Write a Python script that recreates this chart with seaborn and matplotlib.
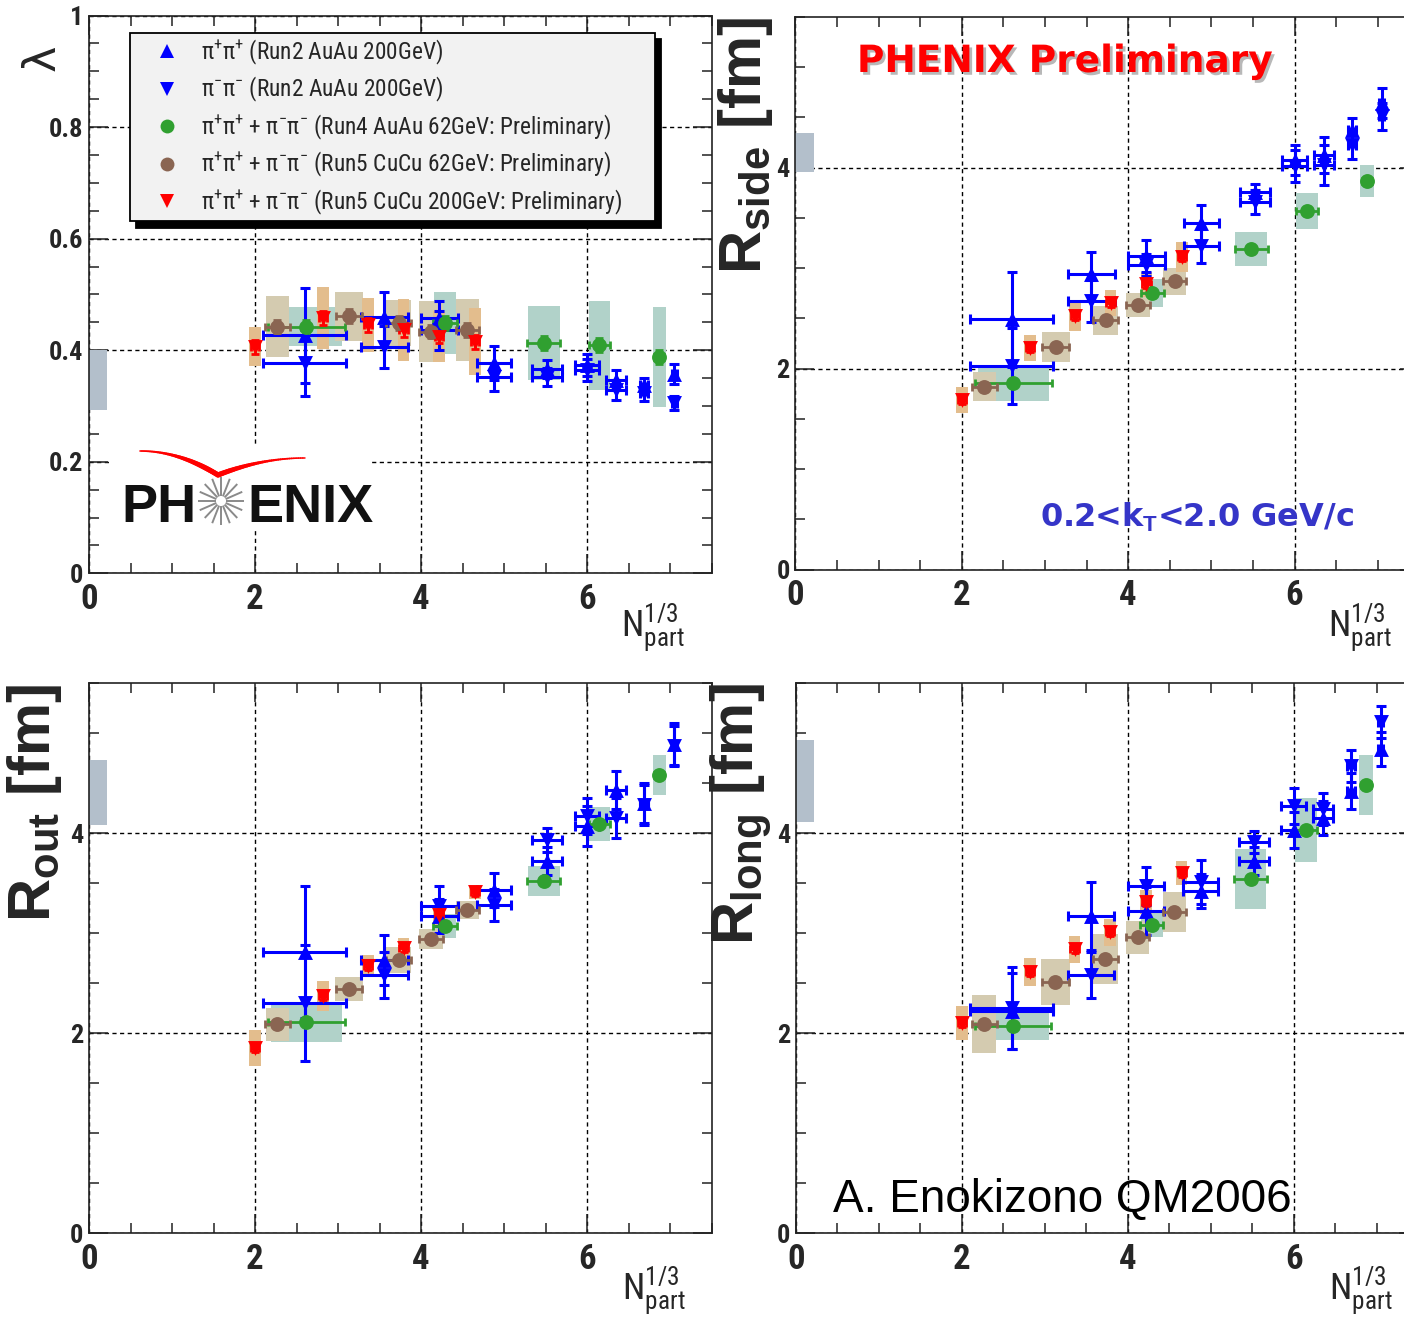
import numpy as np
import pandas as pd
import matplotlib
matplotlib.use("Agg")
import matplotlib.pyplot as plt
import seaborn as sns
from matplotlib.lines import Line2D
from matplotlib.ticker import MultipleLocator
from matplotlib.collections import LineCollection
import matplotlib.patheffects as pe
from matplotlib import font_manager as fm

# ---------------- data ----------------
# x positions (N_part^{1/3})
x_run2 = [2.60, 3.56, 4.22, 4.88, 5.52, 6.00, 6.35, 6.69, 7.05]
xerr_run2 = [0.50, 0.28, 0.22, 0.21, 0.18, 0.15, 0.12, 0.05, 0.03]
x_auau62 = [2.62, 4.29, 5.48, 6.15, 6.87]
xerr_auau62 = [0.46, 0.14, 0.20, 0.13, 0.06]
boxw_auau62 = [0.43, 0.13, 0.19, 0.13, 0.08]
x_cucu62 = [2.27, 3.13, 3.73, 4.12, 4.56]
xerr_cucu62 = [0.15, 0.16, 0.15, 0.14, 0.14]
boxw_cucu62 = [0.14, 0.17, 0.15, 0.14, 0.14]
x_cucu200 = [2.00, 2.82, 3.36, 3.79, 4.22, 4.65]
xerr_cucu200 = [0.05, 0.05, 0.05, 0.05, 0.05, 0.05]
boxw_cucu200 = [0.07, 0.07, 0.07, 0.07, 0.07, 0.07]

# lambda
lam_pp = [0.427, 0.460, 0.458, 0.377, 0.367, 0.373, 0.346, 0.337, 0.358]
lam_pp_err = [0.085, 0.045, 0.030, 0.030, 0.016, 0.020, 0.018, 0.014, 0.018]
lam_mm = [0.377, 0.406, 0.436, 0.352, 0.352, 0.364, 0.329, 0.323, 0.305]
lam_mm_err = [0.060, 0.038, 0.035, 0.025, 0.016, 0.020, 0.018, 0.014, 0.012]
lam_auau62 = [0.442, 0.449, 0.413, 0.409, 0.388]
lam_auau62_sys = [0.035, 0.056, 0.067, 0.080, 0.089]
lam_cucu62 = [0.442, 0.461, 0.449, 0.433, 0.436]
lam_cucu62_sys = [0.055, 0.044, 0.041, 0.055, 0.056]
lam_cucu200 = [0.406, 0.458, 0.445, 0.436, 0.424, 0.415]
lam_cucu200_sys = [0.035, 0.055, 0.048, 0.055, 0.046, 0.060]

# R_side
side_pp = [2.49, 2.94, 3.12, 3.45, 3.76, 4.08, 4.13, 4.38, 4.64]
side_pp_err = [0.47, 0.22, 0.16, 0.18, 0.08, 0.15, 0.18, 0.11, 0.15]
side_mm = [2.03, 2.67, 3.03, 3.22, 3.66, 4.02, 4.03, 4.23, 4.51]
side_mm_err = [0.38, 0.21, 0.11, 0.17, 0.12, 0.16, 0.20, 0.14, 0.13]
side_auau62 = [1.86, 2.75, 3.19, 3.57, 3.87]
side_auau62_sys = [0.18, 0.14, 0.17, 0.18, 0.16]
side_cucu62 = [1.82, 2.22, 2.48, 2.63, 2.87]
side_cucu62_sys = [0.145, 0.15, 0.14, 0.12, 0.135]
side_cucu200 = [1.69, 2.21, 2.52, 2.65, 2.84, 3.11]
side_cucu200_sys = [0.13, 0.13, 0.14, 0.13, 0.125, 0.15]

# R_out
out_pp = [2.81, 2.73, 3.17, 3.43, 3.72, 4.07, 4.43, 4.30, 4.89]
out_pp_err = [0.66, 0.25, 0.17, 0.17, 0.14, 0.20, 0.19, 0.20, 0.21]
out_mm = [2.30, 2.58, 3.27, 3.28, 3.93, 4.17, 4.15, 4.28, 4.87]
out_mm_err = [0.58, 0.23, 0.20, 0.16, 0.12, 0.18, 0.20, 0.20, 0.20]
out_auau62 = [2.11, 3.07, 3.52, 4.09, 4.58]
out_auau62_sys = [0.20, 0.12, 0.15, 0.17, 0.20]
out_cucu62 = [2.09, 2.44, 2.73, 2.94, 3.23]
out_cucu62_sys = [0.165, 0.12, 0.13, 0.10, 0.09]
out_cucu200 = [1.85, 2.37, 2.67, 2.85, 3.18, 3.41]
out_cucu200_sys = [0.18, 0.15, 0.11, 0.10, 0.10, 0.07]

# R_long
long_pp = [2.22, 3.17, 3.22, 3.42, 3.72, 4.03, 4.15, 4.42, 4.84]
long_pp_err = [0.38, 0.34, 0.24, 0.17, 0.14, 0.18, 0.17, 0.18, 0.17]
long_mm = [2.25, 2.58, 3.47, 3.51, 3.91, 4.27, 4.24, 4.67, 5.11]
long_mm_err = [0.41, 0.23, 0.19, 0.22, 0.11, 0.18, 0.16, 0.16, 0.16]
long_auau62 = [2.07, 3.08, 3.54, 4.03, 4.48]
long_auau62_sys = [0.14, 0.12, 0.30, 0.32, 0.30]
long_cucu62 = [2.09, 2.51, 2.74, 2.96, 3.21]
long_cucu62_sys = [0.29, 0.23, 0.25, 0.165, 0.20]
long_cucu200 = [2.10, 2.61, 2.84, 3.01, 3.31, 3.60]
long_cucu200_sys = [0.17, 0.14, 0.135, 0.135, 0.12, 0.12]

# global normalisation boxes (lambda, side, out, long)
gbox_lo = [0.293, 3.96, 4.08, 4.11]
gbox_hi = [0.400, 4.35, 4.73, 4.93]

legend_labels = [
    "π$^{+}$π$^{+}$ (Run2 AuAu 200GeV)",
    "π$^{-}$π$^{-}$ (Run2 AuAu 200GeV)",
    "π$^{+}$π$^{+}$ + π$^{-}$π$^{-}$ (Run4 AuAu 62GeV: Preliminary)",
    "π$^{+}$π$^{+}$ + π$^{-}$π$^{-}$ (Run5 CuCu 62GeV: Preliminary)",
    "π$^{+}$π$^{+}$ + π$^{-}$π$^{-}$ (Run5 CuCu 200GeV: Preliminary)",
]

# ---------------- style ----------------
BLUE = "#0000ff"
GREEN = "#30a030"
BROWN = "#8a6552"
RED = "#ff0000"
GBOX = "#b1d2c9"
BBOX = "#d4cbb0"
RBOX = "#e3bd8d"
GRAY = "#b3bfcb"

names = {f.name for f in fm.fontManager.ttflist}
NARROW = "Liberation Sans"
for cand in ["Liberation Sans Narrow", "Arial Narrow", "Roboto Condensed"]:
    if cand in names:
        NARROW = cand
        break
HAS_NARROW = NARROW != "Liberation Sans"

sns.set_style("ticks")
plt.rcParams["font.family"] = [NARROW, "Liberation Sans", "DejaVu Sans"]
plt.rcParams["mathtext.fontset"] = "custom"
plt.rcParams["mathtext.rm"] = NARROW
plt.rcParams["mathtext.it"] = NARROW + ":italic"
plt.rcParams["mathtext.bf"] = "Liberation Sans:bold"

W, H = 1404, 1317
fig = plt.figure(figsize=(W / 100, H / 100), dpi=100)
fig.patch.set_facecolor("white")


def frac(left, top, right, bottom):
    return [left / W, 1 - bottom / H, (right - left) / W, (bottom - top) / H]


axTL = fig.add_axes(frac(89, 15.5, 711.5, 573.3))
axTR = fig.add_axes(frac(795.3, 17, 1419.3, 569.7))
axBL = fig.add_axes(frac(89, 683.3, 711.5, 1233.3))
axBR = fig.add_axes(frac(795.7, 683.3, 1418.2, 1233.3))


def style_axes(ax, ymax, ymajor, ylabels, yminor):
    ax.set_xlim(0, 7.5)
    ax.set_ylim(0, ymax)
    ax.set_xticks([0, 2, 4, 6])
    ax.set_xticklabels(["0", "2", "4", "6"], fontsize=25, fontweight="bold")
    ax.set_yticks(ymajor)
    ax.set_yticklabels(ylabels, fontsize=19, fontweight="bold")
    ax.xaxis.set_minor_locator(MultipleLocator(0.5))
    ax.yaxis.set_minor_locator(MultipleLocator(yminor))
    ax.tick_params(which="both", direction="in", top=True, right=True,
                   color="#222222", width=1.1)
    ax.tick_params(which="major", length=14)
    ax.tick_params(which="minor", length=7)
    ax.tick_params(axis="x", pad=7)
    ax.tick_params(axis="y", pad=4)
    ax.grid(True, which="major", color="black", linestyle=(0, (3, 2.5)), linewidth=1.0)
    ax.set_axisbelow(True)
    for s in ax.spines.values():
        s.set_linewidth(1.2)
        s.set_color("#222222")
    ax.set_facecolor("white")


def draw_panel(ax, pp, pp_err, mm, mm_err, g, g_sys, b, b_sys, r, r_sys, stat, idx):
    # global normalisation box
    ax.bar([0.11], [gbox_hi[idx] - gbox_lo[idx]], bottom=[gbox_lo[idx]], width=0.22,
           color=GRAY, linewidth=0, zorder=2)
    # systematic boxes
    for xs, ys, sy, bw, col in [(x_auau62, g, g_sys, boxw_auau62, GBOX),
                                (x_cucu62, b, b_sys, boxw_cucu62, BBOX),
                                (x_cucu200, r, r_sys, boxw_cucu200, RBOX)]:
        ys = np.asarray(ys); sy = np.asarray(sy)
        ax.bar(xs, 2 * sy, bottom=ys - sy, width=2 * np.asarray(bw), color=col,
               linewidth=0, zorder=2.2)
    # Run2 blue error bars
    for ys, ye in [(pp, pp_err), (mm, mm_err)]:
        ax.errorbar(x_run2, ys, xerr=xerr_run2, yerr=ye, fmt="none", ecolor=BLUE,
                    elinewidth=2.2, capsize=3.5, capthick=2.2, zorder=3)
    # other error bars
    for xs, xe, ys, col in [(x_auau62, xerr_auau62, g, GREEN),
                            (x_cucu62, xerr_cucu62, b, BROWN),
                            (x_cucu200, xerr_cucu200, r, RED)]:
        ax.errorbar(xs, ys, xerr=xe, yerr=[stat] * len(xs), fmt="none", ecolor=col,
                    elinewidth=2.0, capsize=3, capthick=2.0, zorder=3.5)
    # markers via seaborn
    series = [
        (x_run2, pp, "^", BLUE, 4),
        (x_run2, mm, "v", BLUE, 4),
        (x_auau62, g, "o", GREEN, 4.5),
        (x_cucu62, b, "o", BROWN, 4.5),
        (x_cucu200, r, "v", RED, 4.6),
    ]
    for xs, ys, m, col, z in series:
        df = pd.DataFrame({"x": xs, "y": ys})
        sns.scatterplot(data=df, x="x", y="y", marker=m, s=115, color=col,
                        edgecolor=col, linewidth=0, ax=ax, zorder=z, legend=False)
    ax.set_xlabel("")
    ax.set_ylabel("")


draw_panel(axTL, lam_pp, lam_pp_err, lam_mm, lam_mm_err, lam_auau62, lam_auau62_sys,
           lam_cucu62, lam_cucu62_sys, lam_cucu200, lam_cucu200_sys, 0.012, 0)
draw_panel(axTR, side_pp, side_pp_err, side_mm, side_mm_err, side_auau62, side_auau62_sys,
           side_cucu62, side_cucu62_sys, side_cucu200, side_cucu200_sys, 0.04, 1)
draw_panel(axBL, out_pp, out_pp_err, out_mm, out_mm_err, out_auau62, out_auau62_sys,
           out_cucu62, out_cucu62_sys, out_cucu200, out_cucu200_sys, 0.04, 2)
draw_panel(axBR, long_pp, long_pp_err, long_mm, long_mm_err, long_auau62, long_auau62_sys,
           long_cucu62, long_cucu62_sys, long_cucu200, long_cucu200_sys, 0.04, 3)

style_axes(axTL, 1.0, [0, 0.2, 0.4, 0.6, 0.8, 1.0], ["0", "0.2", "0.4", "0.6", "0.8", "1"], 0.05)
for ax in (axTR, axBL, axBR):
    style_axes(ax, 5.5, [0, 2, 4], ["0", "2", "4"], 0.5)

# x labels
xl = r"N$_{\mathrm{part}}^{\mathrm{1/3}}$"
axTL.text(0.905, -0.098, xl, transform=axTL.transAxes, fontsize=26, ha="center", va="center")
axTR.text(0.904, -0.105, xl, transform=axTR.transAxes, fontsize=26, ha="center", va="center")
axBL.text(0.908, -0.104, xl, transform=axBL.transAxes, fontsize=26, ha="center", va="center")
axBR.text(0.907, -0.104, xl, transform=axBR.transAxes, fontsize=26, ha="center", va="center")

# y labels
axTL.text(-0.076, 0.925, "λ", transform=axTL.transAxes, fontsize=32, rotation=90,
          ha="center", va="center", family=["DejaVu Sans"])
ylab_kw = dict(fontsize=43, fontweight="bold", rotation=90, ha="center", va="top",
               family=["Liberation Sans", "DejaVu Sans"])
axTR.text(-0.080, 1.0, r"R$_{\mathbf{side}}$ [fm]", transform=axTR.transAxes, **ylab_kw)
axBL.text(-0.087, 1.0, r"R$_{\mathbf{out}}$ [fm]", transform=axBL.transAxes, **ylab_kw)
axBR.text(-0.086, 1.0, r"R$_{\mathbf{long}}$ [fm]", transform=axBR.transAxes, **ylab_kw)

# annotations
axTR.text(0.432, 0.9186, "PHENIX Preliminary", transform=axTR.transAxes, fontsize=27,
          fontweight="bold", color=RED, ha="center", va="center", family=["DejaVu Sans"],
          zorder=6,
          path_effects=[pe.withSimplePatchShadow(offset=(2, -2), shadow_rgbFace="#9a9a9a", alpha=0.7)])
axTR.text(0.644, 0.0953, r"0.2<k$_{\mathbf{T}}$<2.0 GeV/c", transform=axTR.transAxes,
          fontsize=23, fontweight="bold", color="#3535c8", ha="center", va="center",
          family=["DejaVu Sans"], zorder=6)
axBR.text(0.428, 0.0605, "A. Enokizono QM2006", transform=axBR.transAxes, fontsize=33,
          color="black", ha="center", va="center", family=["Liberation Sans", "DejaVu Sans"],
          zorder=6)

# legend
handles = [
    Line2D([], [], marker="^", color=BLUE, ls="none", markersize=10, markeredgewidth=0),
    Line2D([], [], marker="v", color=BLUE, ls="none", markersize=10, markeredgewidth=0),
    Line2D([], [], marker="o", color=GREEN, ls="none", markersize=10, markeredgewidth=0),
    Line2D([], [], marker="o", color=BROWN, ls="none", markersize=10, markeredgewidth=0),
    Line2D([], [], marker="v", color=RED, ls="none", markersize=10, markeredgewidth=0),
]
leg_fs = 16.8 if HAS_NARROW else 14.5
leg = axTL.legend(handles, legend_labels, loc="upper left",
                  bbox_to_anchor=(0.0659, 0.6334, 0.843, 0.3352), mode="expand",
                  borderaxespad=0, fontsize=leg_fs, frameon=True, fancybox=False,
                  edgecolor="black", facecolor="#f2f2f2", framealpha=1,
                  borderpad=0.2, labelspacing=0.36, handlelength=2.75, handletextpad=0.08,
                  shadow={"ox": 4.5, "oy": -4.5, "color": "black", "alpha": 1})
leg.get_frame().set_linewidth(1.3)
leg.set_zorder(10)

# PHENIX logo (decoration) in its own pixel-coordinate axes
axL = fig.add_axes(frac(110, 445, 372, 528))
axL.set_xlim(110, 372)
axL.set_ylim(528, 445)
axL.set_xticks([])
axL.set_yticks([])
for s in axL.spines.values():
    s.set_visible(False)
axL.set_facecolor("white")
logo_kw = dict(fontsize=39, fontweight="bold", color="#111111", va="baseline", ha="left",
               family=["Liberation Sans", "DejaVu Sans"])
axL.text(121, 522, "PH", **logo_kw)
axL.text(247, 522, "ENIX", **logo_kw)
ang = np.linspace(0, 2 * np.pi, 17)[:-1]
cx, cy = 221, 501
segs = [[(cx + 5 * np.cos(a), cy + 5 * np.sin(a)), (cx + 23 * np.cos(a), cy + 24 * np.sin(a))] for a in ang]
axL.add_collection(LineCollection(segs, colors="#8a8a8a", linewidths=1.4))
t = np.linspace(0, 1, 40)
lx = 140 + 78 * t
ly = 451 + 24 * t ** 2
s_ = np.linspace(0, 1, 40)
rx = 218 + 87 * s_
ry = 475 - 17 * (2 * s_ - s_ ** 2)
px_ = np.concatenate([lx, rx[1:]])
py_ = np.concatenate([ly, ry[1:]])
pts = np.column_stack([px_, py_])
segs2 = np.stack([pts[:-1], pts[1:]], axis=1)
u = np.linspace(0, 1, len(segs2))
widths = 1.0 + 2.8 * np.exp(-((u - 0.47) / 0.28) ** 2)
axL.add_collection(LineCollection(segs2, colors=RED, linewidths=widths, capstyle="round"))

fig.savefig("out.png", dpi=100)
